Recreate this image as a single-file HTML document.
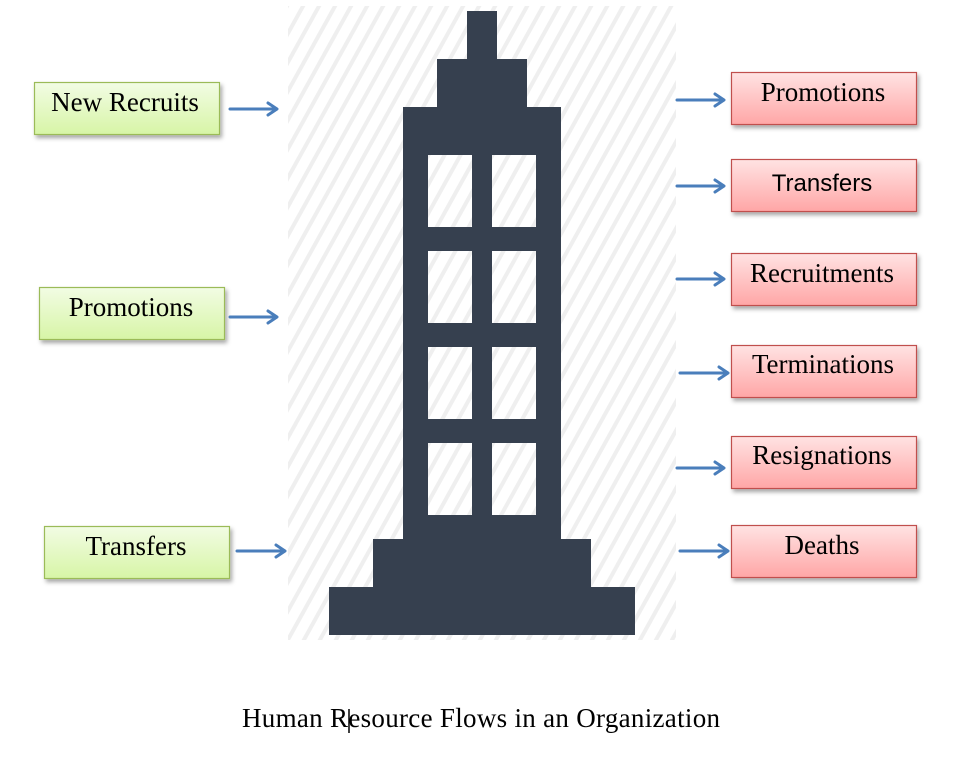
<!DOCTYPE html>
<html>
<head>
<meta charset="utf-8">
<style>
  html, body { margin: 0; padding: 0; background: #ffffff; }
  svg { display: block; }
</style>
</head>
<body>
<svg width="963" height="764" viewBox="0 0 963 764" xmlns="http://www.w3.org/2000/svg">
  <defs>
    <pattern id="hatch" patternUnits="userSpaceOnUse" width="14" height="10" patternTransform="rotate(29)">
      <rect x="0" y="0" width="4" height="10" fill="#efefef"/>
    </pattern>
    <linearGradient id="green" x1="0" y1="0" x2="0" y2="1">
      <stop offset="0" stop-color="#f2fce4"/>
      <stop offset="1" stop-color="#d7f5a6"/>
    </linearGradient>
    <linearGradient id="red" x1="0" y1="0" x2="0" y2="1">
      <stop offset="0" stop-color="#ffe3e3"/>
      <stop offset="1" stop-color="#ffa6a6"/>
    </linearGradient>
    <filter id="sh" x="-10%" y="-20%" width="130%" height="160%">
      <feDropShadow dx="2" dy="3" stdDeviation="2" flood-color="#000" flood-opacity="0.35"/>
    </filter>
  </defs>

  <!-- hatched background -->
  <rect x="288" y="6" width="388" height="634" fill="url(#hatch)"/>

  <!-- building -->
  <g fill="#36404f">
    <rect x="467" y="11" width="30" height="49"/>
    <rect x="437" y="59" width="90" height="49"/>
    <rect x="403" y="107" width="158" height="433"/>
    <rect x="373" y="539" width="218" height="49"/>
    <rect x="329" y="587" width="306" height="48"/>
  </g>
  <g fill="#ffffff">
    <rect x="428" y="155" width="44" height="72"/>
    <rect x="492" y="155" width="44" height="72"/>
    <rect x="428" y="251" width="44" height="72"/>
    <rect x="492" y="251" width="44" height="72"/>
    <rect x="428" y="347" width="44" height="72"/>
    <rect x="492" y="347" width="44" height="72"/>
    <rect x="428" y="443" width="44" height="72"/>
    <rect x="492" y="443" width="44" height="72"/>
  </g>
  <g fill="url(#hatch)">
    <rect x="428" y="155" width="44" height="72"/>
    <rect x="492" y="155" width="44" height="72"/>
    <rect x="428" y="251" width="44" height="72"/>
    <rect x="492" y="251" width="44" height="72"/>
    <rect x="428" y="347" width="44" height="72"/>
    <rect x="492" y="347" width="44" height="72"/>
    <rect x="428" y="443" width="44" height="72"/>
    <rect x="492" y="443" width="44" height="72"/>
  </g>

  <!-- left boxes -->
  <g stroke="#9bbb59" stroke-width="1.2" fill="url(#green)" filter="url(#sh)">
    <rect x="34.5" y="82.5" width="185" height="52"/>
    <rect x="39.5" y="287.5" width="185" height="52"/>
    <rect x="44.5" y="526.5" width="185" height="52"/>
  </g>
  <g font-family="'Liberation Serif', serif" font-size="27" fill="#000" text-anchor="middle">
    <text x="125" y="111">New Recruits</text>
    <text x="131" y="316">Promotions</text>
    <text x="136" y="555">Transfers</text>
  </g>

  <!-- right boxes -->
  <g stroke="#c0504d" stroke-width="1.2" fill="url(#red)" filter="url(#sh)">
    <rect x="731.5" y="72.5" width="185" height="52"/>
    <rect x="731.5" y="159.5" width="185" height="52"/>
    <rect x="731.5" y="253.5" width="185" height="52"/>
    <rect x="731.5" y="345.5" width="185" height="52"/>
    <rect x="731.5" y="436.5" width="185" height="52"/>
    <rect x="731.5" y="525.5" width="185" height="52"/>
  </g>
  <g font-family="'Liberation Serif', serif" font-size="27" fill="#000" text-anchor="middle">
    <text x="823" y="101">Promotions</text>
    <text x="822" y="282">Recruitments</text>
    <text x="823" y="373">Terminations</text>
    <text x="822" y="464">Resignations</text>
    <text x="822" y="554">Deaths</text>
  </g>
  <text x="822" y="191" font-family="'Liberation Sans', sans-serif" font-size="24" fill="#000" text-anchor="middle">Transfers</text>

  <!-- arrows -->
  <g stroke="#4a7ebb" stroke-width="3" fill="none" stroke-linecap="round" stroke-linejoin="round">
    <line x1="230" y1="109" x2="276" y2="109"/><polyline points="268,103 277,109 268,115"/>
    <line x1="230" y1="317" x2="276" y2="317"/><polyline points="268,311 277,317 268,323"/>
    <line x1="237" y1="551" x2="284" y2="551"/><polyline points="276,545 285,551 276,557"/>

    <line x1="677" y1="100" x2="723" y2="100"/><polyline points="715,94 724,100 715,106"/>
    <line x1="677" y1="186" x2="723" y2="186"/><polyline points="715,180 724,186 715,192"/>
    <line x1="677" y1="279" x2="723" y2="279"/><polyline points="715,273 724,279 715,285"/>
    <line x1="680" y1="373" x2="727" y2="373"/><polyline points="719,367 728,373 719,379"/>
    <line x1="677" y1="468" x2="723" y2="468"/><polyline points="715,462 724,468 715,474"/>
    <line x1="680" y1="551" x2="727" y2="551"/><polyline points="719,545 728,551 719,557"/>
  </g>

  <!-- caption -->
  <text x="242" y="727" font-family="'Liberation Serif', serif" font-size="27" fill="#000" textLength="478" lengthAdjust="spacing">Human Resource Flows in an Organization</text>
  <line x1="349" y1="709" x2="349" y2="733" stroke="#000" stroke-width="1.5"/>
</svg>
</body>
</html>
